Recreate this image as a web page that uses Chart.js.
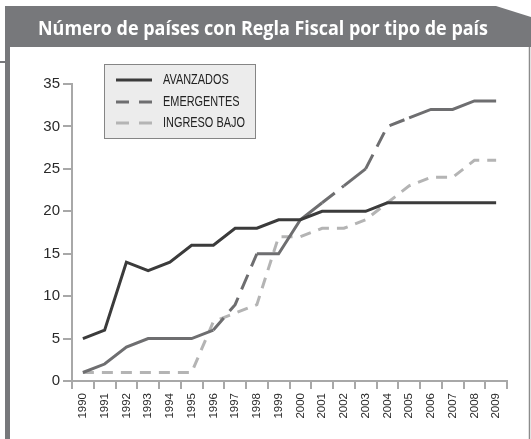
<!DOCTYPE html>
<html>
<head>
<meta charset="utf-8">
<script src="https://cdn.jsdelivr.net/npm/chart.js@4"></script>
<style>
  html, body { margin: 0; padding: 0; background: #fff; }
</style>
</head>
<body>
<canvas id="chart" width="531" height="439"></canvas>
<script>
// Número de países con regla fiscal, 1990-2009
const years = ['1990', '1991', '1992', '1993', '1994', '1995', '1996', '1997', '1998', '1999',
               '2000', '2001', '2002', '2003', '2004', '2005', '2006', '2007', '2008', '2009'];
const avanzados   = [5, 6, 14, 13, 14, 16, 16, 18, 18, 19, 19, 20, 20, 20, 21, 21, 21, 21, 21, 21];
const emergentes  = [1, 2, 4, 5, 5, 5, 6, 9, 15, 15, 19, 21, 23, 25, 30, 31, 32, 32, 33, 33];
const ingresoBajo = [1, 1, 1, 1, 1, 1, 7, 8, 9, 17, 17, 18, 18, 19, 21, 23, 24, 24, 26, 26];
const yTicks = [0, 5, 10, 15, 20, 25, 30, 35];

const titulo = 'Número de países con Regla Fiscal por tipo de país';
const series = ['AVANZADOS', 'EMERGENTES', 'INGRESO BAJO'];

// tramos de EMERGENTES que en el original salen cortados
const tramosCortados = [6, 7, 11, 13, 14];

const GRIS_MARCO = '#77787b';
const GRIS_EJE = '#a8a8a8';

// marco: cabecera gris con la esquina cortada y barra a la izquierda
const marco = {
    id: 'marco',
    beforeDraw(chart) {
        const c = chart.ctx;
        c.save();
        c.fillStyle = GRIS_MARCO;
        c.beginPath();
        c.moveTo(5, 6);
        c.lineTo(496, 6);
        c.lineTo(531, 17);
        c.lineTo(531, 47);
        c.lineTo(5, 47);
        c.closePath();
        c.fill();
        c.fillRect(5, 47, 5, 392);
        c.fillRect(0, 61, 6, 2);
        c.strokeStyle = '#8c8c8c';
        c.lineWidth = 1.5;
        c.beginPath();
        c.moveTo(529.5, 47);
        c.lineTo(529.5, 439);
        c.stroke();

        c.fillStyle = '#ffffff';
        c.font = 'bold 20px "Open Sans"';
        c.textBaseline = 'alphabetic';
        const w = c.measureText(titulo).width;
        const k = 450 / w;
        c.translate(38, 35);
        c.scale(k, 1);
        c.fillText(titulo, 0, 0);
        c.restore();
    }
};

// leyenda en caja gris
const leyenda = {
    id: 'leyenda',
    afterDraw(chart) {
        const c = chart.ctx;
        c.save();
        c.fillStyle = '#ececec';
        c.fillRect(104, 64, 151, 74);
        c.strokeStyle = '#858585';
        c.lineWidth = 1;
        c.strokeRect(104.5, 64.5, 151, 74);
        const filas = [80, 102, 123];
        chart.data.datasets.forEach((ds, i) => {
            const y = filas[i];
            c.strokeStyle = ds.borderColor;
            c.lineWidth = 3;
            c.setLineDash(i === 0 ? [] : [13, 10]);
            c.beginPath();
            c.moveTo(116, y);
            c.lineTo(152, y);
            c.stroke();
            c.setLineDash([]);
            c.save();
            c.fillStyle = '#222';
            c.font = '14px "Liberation Sans", Arial, sans-serif';
            c.textBaseline = 'middle';
            c.translate(163, y + 0.5);
            c.scale(0.78, 1);
            c.fillText(ds.label, 0, 0);
            c.restore();
        });
        c.restore();
    }
};

const ctx = document.getElementById('chart').getContext('2d');

new Chart(ctx, {
    type: 'line',
    data: {
        labels: years,
        datasets: [
            {
                label: series[0],
                data: avanzados,
                borderColor: '#3b3b3b',
                borderWidth: 3,
                pointRadius: 0,
                tension: 0
            },
            {
                label: series[1],
                data: emergentes,
                borderColor: '#6e6e70',
                borderWidth: 3,
                pointRadius: 0,
                tension: 0,
                segment: {
                    borderDash: s => tramosCortados.includes(s.p0DataIndex) ? [16, 9] : []
                }
            },
            {
                label: series[2],
                data: ingresoBajo,
                borderColor: '#b4b4b4',
                borderWidth: 3,
                borderDash: [11, 8],
                pointRadius: 0,
                tension: 0
            }
        ]
    },
    options: {
        responsive: false,
        animation: false,
        layout: { padding: { top: 84, right: 24, left: 0, bottom: 0 } },
        plugins: {
            legend: { display: false },
            title: { display: false },
            tooltip: { enabled: false }
        },
        scales: {
            x: {
                offset: true,
                grid: {
                    offset: true,
                    drawOnChartArea: false,
                    tickLength: 8,
                    color: GRIS_EJE,
                    lineWidth: 2
                },
                border: { color: GRIS_EJE, width: 2 },
                ticks: {
                    autoSkip: false,
                    minRotation: 90,
                    maxRotation: 90,
                    padding: 4,
                    color: '#2a2a2a',
                    font: { family: '"Liberation Sans", Arial, sans-serif', size: 11.5 }
                },
                afterFit: s => { s.height = 58; }
            },
            y: {
                min: 0,
                max: 35,
                afterBuildTicks: s => { s.ticks = yTicks.map(v => ({ value: v })); },
                grid: {
                    drawOnChartArea: false,
                    tickLength: 9,
                    color: GRIS_EJE,
                    lineWidth: 2
                },
                border: { color: GRIS_EJE, width: 2 },
                ticks: {
                    padding: 3,
                    color: '#2a2a2a',
                    font: { family: '"Liberation Sans", Arial, sans-serif', size: 15 }
                },
                afterFit: s => { s.width = 72; }
            }
        }
    },
    plugins: [marco, leyenda]
});
</script>
</body>
</html>
